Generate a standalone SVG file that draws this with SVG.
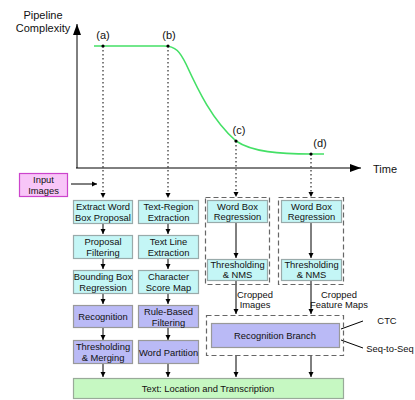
<svg xmlns="http://www.w3.org/2000/svg" width="415" height="400" viewBox="0 0 415 400">
<defs>
<marker id="ah" markerWidth="6" markerHeight="6" refX="5" refY="3" orient="auto" markerUnits="userSpaceOnUse"><path d="M0,0.5 L5,3 L0,5.5 Z" fill="#000"/></marker>
<marker id="big" markerWidth="12" markerHeight="10" refX="11" refY="5" orient="auto" markerUnits="userSpaceOnUse"><path d="M0,1 L11,5 L0,9 Z" fill="#000"/></marker>
<marker id="dot" markerWidth="4" markerHeight="4" refX="2" refY="2" markerUnits="userSpaceOnUse"><circle cx="2" cy="2" r="1.6" fill="#000"/></marker>
</defs>
<style>
text{font-family:"Liberation Sans",Arial,sans-serif;font-size:9.4px;fill:#111;text-anchor:middle}
.cy{fill:#c4f6f6;stroke:#9aa;stroke-width:1.2}
.pu{fill:#babaf6;stroke:#999;stroke-width:1.2}
.gr{fill:#c6f8c2;stroke:#9a9;stroke-width:1.2}
.pk{fill:#f8c6f8;stroke:#cc44cc;stroke-width:1.2}
.dash{fill:none;stroke:#666;stroke-width:1.2;stroke-dasharray:5,3}
.ln{stroke:#000;stroke-width:1;fill:none}
.dt{stroke:#000;stroke-width:1;fill:none;stroke-dasharray:1.5,2.5}
.lab{font-size:11px}
</style>
<g id="axes">
<line class="ln" x1="77" y1="168" x2="77" y2="24" marker-end="url(#big)" stroke-width="1.5"/>
<line class="ln" x1="76" y1="168" x2="361" y2="168" marker-end="url(#big)" stroke-width="1.5"/>
<text class="lab" x="43" y="19">Pipeline</text>
<text class="lab" x="43" y="32">Complexity</text>
<text class="lab" x="385" y="173">Time</text>
</g>
<g id="curve">
<path d="M94,46 L164,46 C176,46 180,52 186,64 C198,90 212,120 236,141 C252,152 280,154 311,154 L324,154" fill="none" stroke="#44e066" stroke-width="1.6"/>
<text class="lab" x="103" y="39">(a)</text>
<text class="lab" x="169" y="39">(b)</text>
<text class="lab" x="239" y="134">(c)</text>
<text class="lab" x="320" y="147">(d)</text>
</g>
<g id="connectors">
<line class="dt" x1="103" y1="46" x2="103" y2="198" marker-start="url(#dot)" marker-end="url(#ah)"/>
<line class="dt" x1="168" y1="46" x2="168" y2="198" marker-start="url(#dot)" marker-end="url(#ah)"/>
<line class="dt" x1="236" y1="141" x2="236" y2="197" marker-start="url(#dot)" marker-end="url(#ah)"/>
<line class="dt" x1="311" y1="154" x2="311" y2="197" marker-start="url(#dot)" marker-end="url(#ah)"/>
<line class="ln" x1="71" y1="184" x2="97" y2="184" marker-end="url(#ah)"/>
<line class="ln" x1="103" y1="223" x2="103" y2="234" marker-end="url(#ah)"/>
<line class="ln" x1="103" y1="258" x2="103" y2="269" marker-end="url(#ah)"/>
<line class="ln" x1="103" y1="294" x2="103" y2="304" marker-end="url(#ah)"/>
<line class="ln" x1="103" y1="328" x2="103" y2="340" marker-end="url(#ah)"/>
<line class="ln" x1="103" y1="364" x2="103" y2="377" marker-end="url(#ah)"/>
<line class="ln" x1="168" y1="223" x2="168" y2="234" marker-end="url(#ah)"/>
<line class="ln" x1="168" y1="258" x2="168" y2="269" marker-end="url(#ah)"/>
<line class="ln" x1="168" y1="294" x2="168" y2="304" marker-end="url(#ah)"/>
<line class="ln" x1="168" y1="328" x2="168" y2="340" marker-end="url(#ah)"/>
<line class="ln" x1="168" y1="364" x2="168" y2="377" marker-end="url(#ah)"/>
<line class="ln" x1="236" y1="223" x2="236" y2="258" marker-end="url(#ah)"/>
<line class="ln" x1="311" y1="223" x2="311" y2="258" marker-end="url(#ah)"/>
<line class="ln" x1="236" y1="281" x2="236" y2="314" marker-end="url(#ah)"/>
<line class="ln" x1="311" y1="281" x2="311" y2="314" marker-end="url(#ah)"/>
<line class="ln" x1="236" y1="355" x2="236" y2="377" marker-end="url(#ah)"/>
<line class="ln" x1="311" y1="355" x2="311" y2="377" marker-end="url(#ah)"/>
<line class="ln" x1="341" y1="329" x2="363" y2="321"/>
<line class="ln" x1="341" y1="340" x2="363" y2="348"/>
</g>
<g id="input"><rect class="pk" x="19.5" y="173.5" width="48" height="23"/><text x="43.5" y="183">Input</text><text x="43.5" y="194">Images</text></g>
<g id="a1"><rect class="cy" x="73.5" y="200.5" width="59" height="23"/><text x="103" y="210">Extract Word</text><text x="103" y="221">Box Proposal</text></g>
<g id="a2"><rect class="cy" x="73.5" y="235.5" width="59" height="23"/><text x="103" y="245">Proposal</text><text x="103" y="256">Filtering</text></g>
<g id="a3"><rect class="cy" x="73.5" y="270.5" width="59" height="23"/><text x="103" y="280">Bounding Box</text><text x="103" y="291">Regression</text></g>
<g id="a4"><rect class="pu" x="73.5" y="305.5" width="59" height="22"/><text x="103" y="320">Recognition</text></g>
<g id="a5"><rect class="pu" x="73.5" y="340.5" width="59" height="23"/><text x="103" y="350">Thresholding</text><text x="103" y="361">&amp; Merging</text></g>
<g id="b1"><rect class="cy" x="138.5" y="200.5" width="60" height="23"/><text x="168.5" y="210">Text-Region</text><text x="168.5" y="221">Extraction</text></g>
<g id="b2"><rect class="cy" x="138.5" y="235.5" width="60" height="23"/><text x="168.5" y="245">Text Line</text><text x="168.5" y="256">Extraction</text></g>
<g id="b3"><rect class="cy" x="138.5" y="270.5" width="60" height="23"/><text x="168.5" y="280">Character</text><text x="168.5" y="291">Score Map</text></g>
<g id="b4"><rect class="pu" x="138.5" y="305.5" width="60" height="22"/><text x="168.5" y="315">Rule-Based</text><text x="168.5" y="326">Filtering</text></g>
<g id="b5"><rect class="pu" x="138.5" y="340.5" width="60" height="23"/><text x="168.5" y="356">Word Partition</text></g>
<g id="c"><rect class="dash" x="205.5" y="197.5" width="64" height="87"/>
<rect class="cy" x="207.5" y="200.5" width="60" height="22"/><text x="237.5" y="210">Word Box</text><text x="237.5" y="220">Regression</text>
<rect class="cy" x="207.5" y="259.5" width="60" height="21"/><text x="237.5" y="268">Thresholding</text><text x="237.5" y="278">&amp; NMS</text></g>
<g id="d"><rect class="dash" x="278.5" y="197.5" width="65" height="87"/>
<rect class="cy" x="281.5" y="200.5" width="60" height="22"/><text x="311.5" y="210">Word Box</text><text x="311.5" y="220">Regression</text>
<rect class="cy" x="281.5" y="259.5" width="60" height="21"/><text x="311.5" y="268">Thresholding</text><text x="311.5" y="278">&amp; NMS</text></g>
<g id="labels"><text x="255" y="298">Cropped</text><text x="255" y="308">Images</text><text x="339" y="298">Cropped</text><text x="339" y="308">Feature Maps</text></g>
<g id="rec"><rect class="dash" x="206.5" y="315.5" width="137" height="40"/><rect class="pu" x="211.5" y="323.5" width="128" height="24"/><text x="275" y="339">Recognition Branch</text></g>
<g id="ctc"><text x="387" y="324">CTC</text><text x="390" y="352">Seq-to-Seq</text></g>
<g id="out"><rect class="gr" x="73.5" y="378.5" width="270" height="20"/><text x="208" y="392">Text: Location and Transcription</text></g>
</svg>
